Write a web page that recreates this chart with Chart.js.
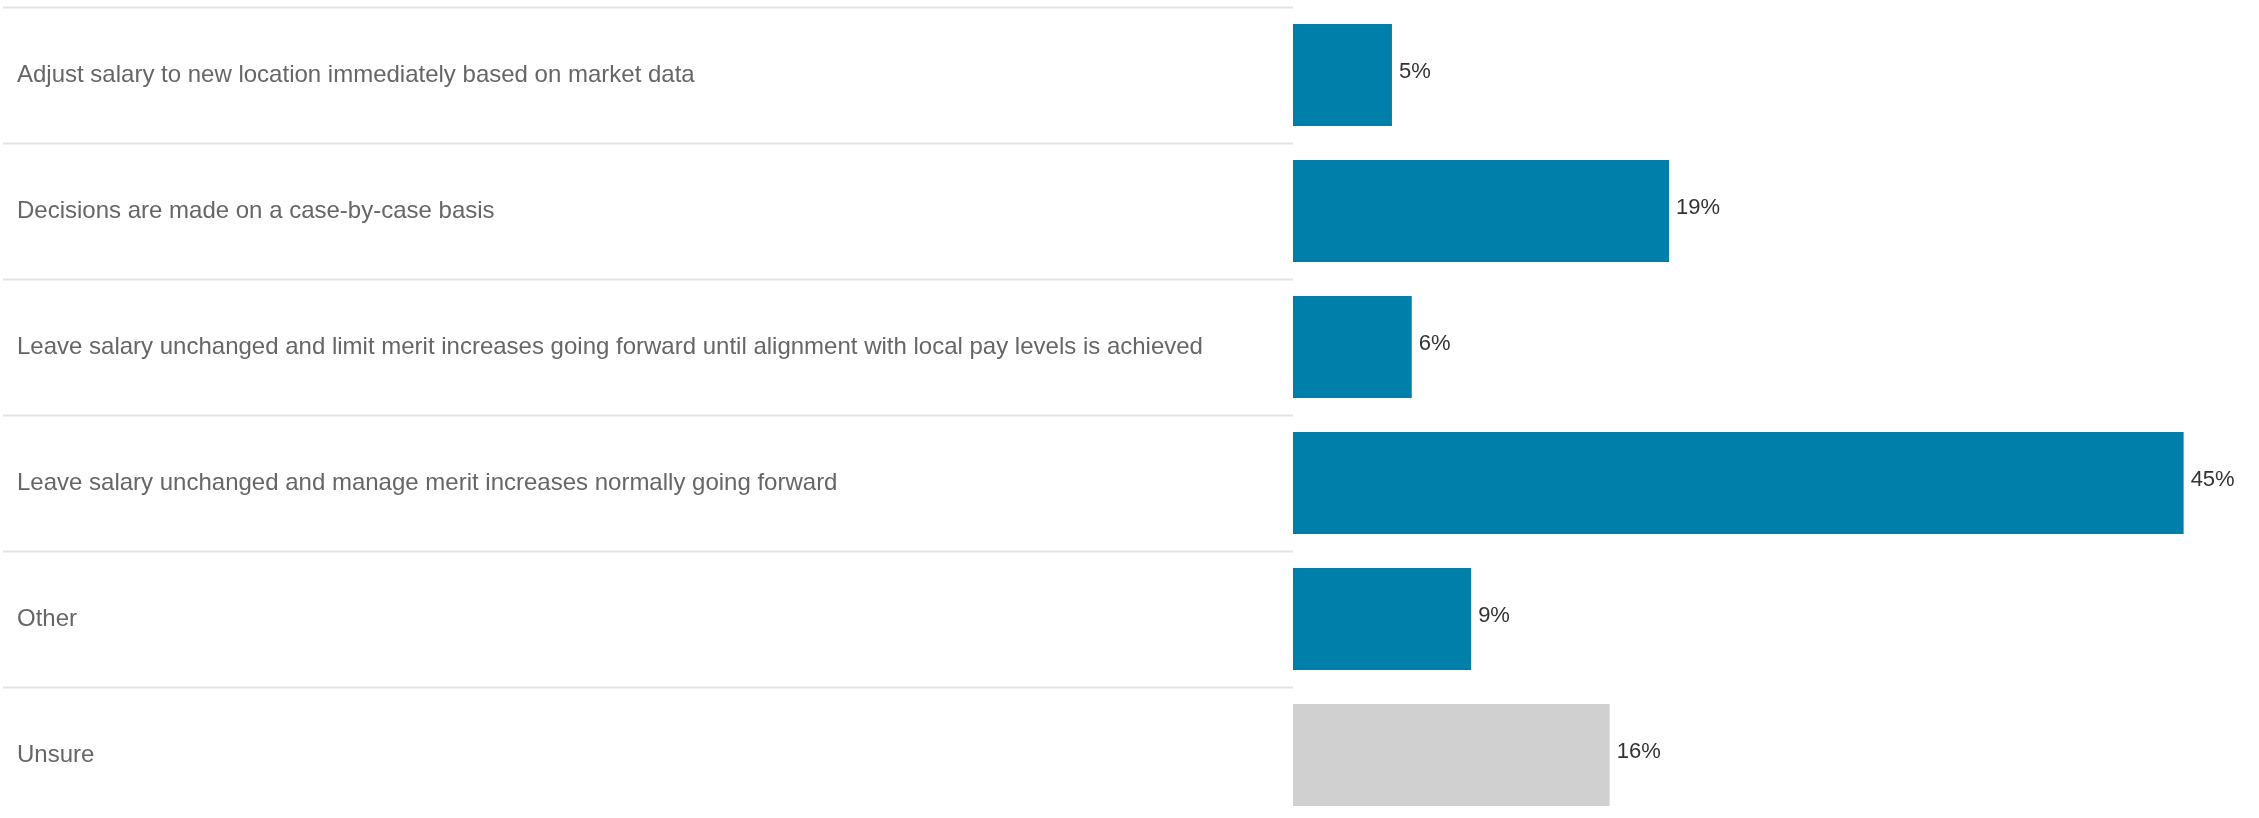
<!DOCTYPE html>
<html>
<head>
<meta charset="utf-8">
<script src="https://cdn.jsdelivr.net/npm/chart.js@4/dist/chart.umd.min.js"></script>
<style>
    html, body { margin: 0; padding: 0; background: #fff; overflow: hidden; }
    #wrap { position: relative; width: 2259px; height: 823px; }
</style>
</head>
<body>
<div id="wrap"><canvas id="salary-chart"></canvas></div>
<script>
// survey answers and share of respondents (%)
const categories = [
    "Adjust salary to new location immediately based on market data",
    "Decisions are made on a case-by-case basis",
    "Leave salary unchanged and limit merit increases going forward until alignment with local pay levels is achieved",
    "Leave salary unchanged and manage merit increases normally going forward",
    "Other",
    "Unsure"
];
const shares = [5, 19, 6, 45, 9, 16];

const BLUE = '#007fab';
const GREY = '#d0d0d0';
const FONT = "'Liberation Sans', Arial, sans-serif";

// write "NN%" just right of each bar
const valueLabels = {
    id: 'valueLabels',
    afterDatasetsDraw(chart) {
        const ctx = chart.ctx;
        const meta = chart.getDatasetMeta(0);
        ctx.save();
        ctx.font = '22px ' + FONT;
        ctx.fillStyle = '#333';
        ctx.textAlign = 'left';
        ctx.textBaseline = 'middle';
        meta.data.forEach(function (bar, i) {
            ctx.fillText(shares[i] + '%', bar.x + 7, bar.y - 3);
        });
        ctx.restore();
    }
};

new Chart(document.getElementById('salary-chart'), {
    type: 'bar',
    data: {
        labels: categories,
        datasets: [{
            data: shares,
            backgroundColor: function (c) {
                return categories[c.dataIndex] === 'Unsure' ? GREY : BLUE;
            },
            barPercentage: 0.75,
            categoryPercentage: 1
        }]
    },
    options: {
        indexAxis: 'y',
        responsive: true,
        maintainAspectRatio: false,
        animation: false,
        layout: { padding: { left: 17, top: 7, right: 16, bottom: 0 } },
        scales: {
            x: { display: false, min: 0, max: 48 },
            y: {
                // row separators are the tick marks, stretched across the label column
                afterFit: function (scale) {
                    scale.width = 1276;
                    scale.paddingTop = 0;
                    scale.paddingBottom = 0;
                },
                grid: {
                    drawOnChartArea: false,
                    drawTicks: true,
                    tickLength: 1290,
                    tickColor: '#e4e4e4',
                    tickWidth: 2
                },
                border: { display: false },
                ticks: {
                    crossAlign: 'far',
                    autoSkip: false,
                    padding: 0,
                    color: '#666',
                    font: { family: FONT, size: 24 }
                }
            }
        },
        plugins: {
            legend: { display: false },
            tooltip: { enabled: false }
        }
    },
    plugins: [valueLabels]
});
</script>
</body>
</html>
